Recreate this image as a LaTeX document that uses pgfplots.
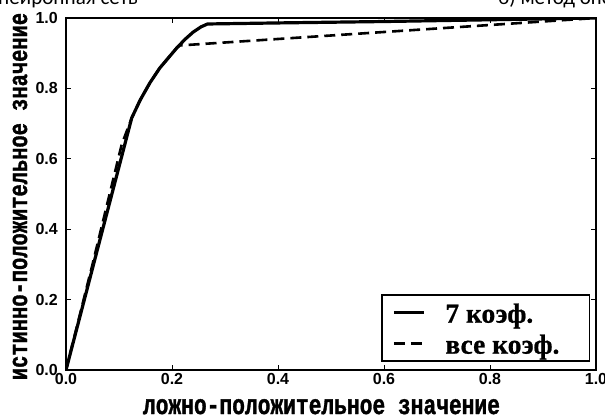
\documentclass[border=0pt]{standalone}
\usepackage{graphicx}
\usepackage{pgfplots}
\pgfplotsset{compat=1.18}
\usepackage{fontspec}
\setmainfont{Liberation Sans}
\newfontfamily\monob{Liberation Mono Bold}[FakeBold=1.6]
\newfontfamily\serifb{Liberation Serif Bold}[FakeBold=0.8]
\newfontfamily\capfont{Carlito}
\begin{document}
\begin{tikzpicture}[x=1pt,y=1pt]
\useasboundingbox (0,0) rectangle (605,416);
\begin{scope}
\clip (0,0) rectangle (605,416);
\node[anchor=base east, inner sep=0pt, font=\capfont\fontsize{21}{21}\selectfont] at (138,411.5) {а) нейронная сеть};
\node[anchor=base west, inner sep=0pt, font=\capfont\fontsize{21}{21}\selectfont] at (498,411.5) {б) метод опорных векторов};
\end{scope}
\begin{axis}[
  at={(66pt,46pt)}, anchor=south west,
  scale only axis, width=530pt, height=352pt,
  xmin=0, xmax=1, ymin=0, ymax=1,
  xtick={0,0.2,0.4,0.6,0.8,1.0},
  ytick={0,0.2,0.4,0.6,0.8,1.0},
  xticklabels={0.0,0.2,0.4,0.6,0.8,1.0},
  yticklabels={0.0,0.2,0.4,0.6,0.8,1.0},
  tick align=inside,
  xtick pos=both, ytick pos=both,
  major tick length=5pt,
  axis line style={line width=1.6pt},
  tick style={line width=1pt, black},
  every tick label/.append style={font=\bfseries\fontsize{16}{16}\selectfont},
  xticklabel style={inner sep=0pt, anchor=north, yshift=-3pt},
  yticklabel style={inner sep=0pt, anchor=east, xshift=-8pt},
  /pgf/number format/assume math mode=true,
  legend style={at={(0.989,0.023)}, anchor=south east, draw=black, line width=1.5pt,
    inner xsep=10pt, inner ysep=2pt,
    font=\serifb\fontsize{27.5}{28}\selectfont,
    nodes={inner sep=0pt, text height=25.5pt, text depth=5.5pt},
    /tikz/every odd column/.append style={column sep=20pt}},
  legend cell align=left,
  legend image code/.code={\draw[#1] (0pt,0pt) -- (30pt,0pt);},
]
\addplot[black, line width=3.2pt, line join=round] coordinates {
(0,0) (0.124,0.716) (0.14,0.767) (0.158,0.815) (0.177,0.858) (0.195,0.89)
(0.209,0.915) (0.225,0.94) (0.240,0.960) (0.255,0.975) (0.267,0.983)
(0.4,0.986) (0.6,0.99) (0.8,0.995) (1,1)};
\addlegendentry{\makebox[134pt][l]{7 коэф.}}
\addplot[black, line width=2.6pt, dash pattern=on 11pt off 6pt] coordinates {
(0,0) (0.05,0.3) (0.105,0.64) (0.124,0.716) (0.14,0.767) (0.158,0.815)
(0.177,0.858) (0.195,0.89) (0.209,0.915) (0.215,0.922) (1,1)};
\addlegendentry{\makebox[134pt][l]{все коэф.}}
\end{axis}
\node[anchor=base, inner sep=0pt, font=\monob\fontsize{21.25}{22}\selectfont] at (321.5,2) {\scalebox{1}[1.3]{ложно-положительное значение}};
\node[anchor=base, rotate=90, inner sep=0pt, font=\monob\fontsize{20.4}{22}\selectfont] at (27,219.5) {\scalebox{1}[1.3]{истинно-положительное значение}};
\end{tikzpicture}
\end{document}
